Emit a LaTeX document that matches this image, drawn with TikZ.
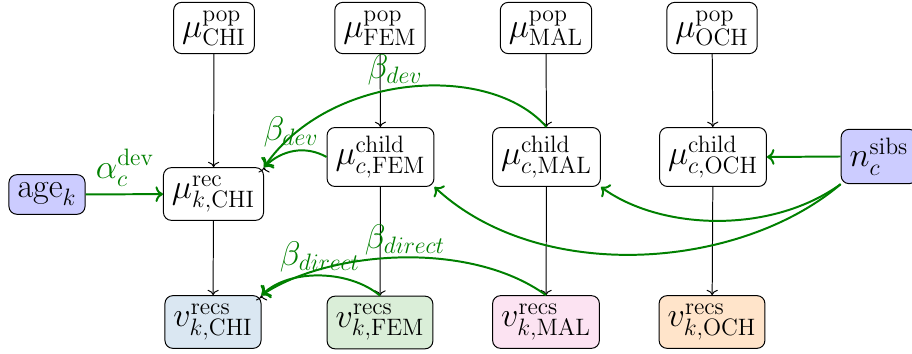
\documentclass[tikz,border=0pt]{standalone}
\usetikzlibrary{arrows.meta}
\definecolor{gr}{RGB}{0,128,0}
\definecolor{nodeblue}{RGB}{204,204,255}
\definecolor{recchi}{RGB}{218,231,242}
\definecolor{recfem}{RGB}{218,238,216}
\definecolor{recmal}{RGB}{252,227,242}
\definecolor{recoch}{RGB}{255,228,202}
\begin{document}
\begin{tikzpicture}[x=0.5056pt, y=-0.5056pt,
  every node/.style={font=\LARGE},
  box/.style={draw, rounded corners=4pt, inner sep=4.3pt, line width=0.5pt},
  inbox/.style={box, fill=nodeblue},
  blk/.style={->, black, line width=0.5pt},
  grn/.style={->, gr, line width=1pt},
  lab/.style={text=gr, inner sep=0pt}]
\useasboundingbox (0,0) rectangle (912,354);
% population nodes
\node[box] (pchi) at (214,28) {$\mu^{\mathrm{pop}}_{\mathrm{CHI}}$};
\node[box] (pfem) at (380,28) {$\mu^{\mathrm{pop}}_{\mathrm{FEM}}$};
\node[box] (pmal) at (546,28) {$\mu^{\mathrm{pop}}_{\mathrm{MAL}}$};
\node[box] (poch) at (712,28) {$\mu^{\mathrm{pop}}_{\mathrm{OCH}}$};
% child nodes
\node[box] (cfem) at (380.5,157) {$\mu^{\mathrm{child}}_{c,\mathrm{FEM}}$};
\node[box] (cmal) at (546.5,157) {$\mu^{\mathrm{child}}_{c,\mathrm{MAL}}$};
\node[box] (coch) at (713,157) {$\mu^{\mathrm{child}}_{c,\mathrm{OCH}}$};
% rec node
\node[box] (rchi) at (213.5,194) {$\mu^{\mathrm{rec}}_{k,\mathrm{CHI}}$};
% inputs
\node[inbox] (age) at (47,194.5) {$\mathrm{age}_k$};
\node[inbox] (sibs) at (879,156.5) {$n^{\mathrm{sibs}}_c$};
% recs nodes
\node[box, fill=recchi] (vchi) at (213,322) {$v^{\mathrm{recs}}_{k,\mathrm{CHI}}$};
\node[box, fill=recfem] (vfem) at (380,322.5) {$v^{\mathrm{recs}}_{k,\mathrm{FEM}}$};
\node[box, fill=recmal] (vmal) at (546,322) {$v^{\mathrm{recs}}_{k,\mathrm{MAL}}$};
\node[box, fill=recoch] (voch) at (712,322) {$v^{\mathrm{recs}}_{k,\mathrm{OCH}}$};
% black arrows
\draw[blk] (pchi) -- (rchi);
\draw[blk] (pfem) -- (cfem);
\draw[blk] (pmal) -- (cmal);
\draw[blk] (poch) -- (coch);
\draw[blk] (rchi) -- (vchi);
\draw[blk] (cfem) -- (vfem);
\draw[blk] (cmal) -- (vmal);
\draw[blk] (coch) -- (voch);
\draw[blk] ([yshift=-1.5pt]rchi.north east) -- (rchi.north east);
\draw[blk] ([yshift=-1.5pt]vchi.north east) -- (vchi.north east);
% green arrows
\draw[grn] (age) -- (rchi);
\draw[grn] (cfem.west) .. controls (305,145) and (282,150) .. (rchi.north east);
\draw[grn] (cmal.north) .. controls (490,62) and (330,72) .. (rchi.north east);
\draw[grn] (sibs.west) -- (coch.east);
\draw[grn] (sibs.south west) .. controls (770,235) and (660,230) .. (cmal.south east);
\draw[grn] (sibs.south west) .. controls (740,270) and (540,285) .. (cfem.south east);
\draw[grn] (vfem.north) .. controls (350,270) and (290,268) .. (vchi.north east);
\draw[grn] (vmal.north) .. controls (470,240) and (330,250) .. (vchi.north east);
% labels
\node[lab] (la) at (125,168) {$\alpha_c^{\mathrm{dev}}$};
\node[lab] (lb1) at (291,132) {$\beta_{dev}$};
\node[lab] (lb2) at (395,70) {$\beta_{dev}$};
\node[lab] (ld1) at (320,257) {$\beta_{direct}$};
\node[lab] (ld2) at (405,240) {$\beta_{direct}$};
\end{tikzpicture}
\end{document}
